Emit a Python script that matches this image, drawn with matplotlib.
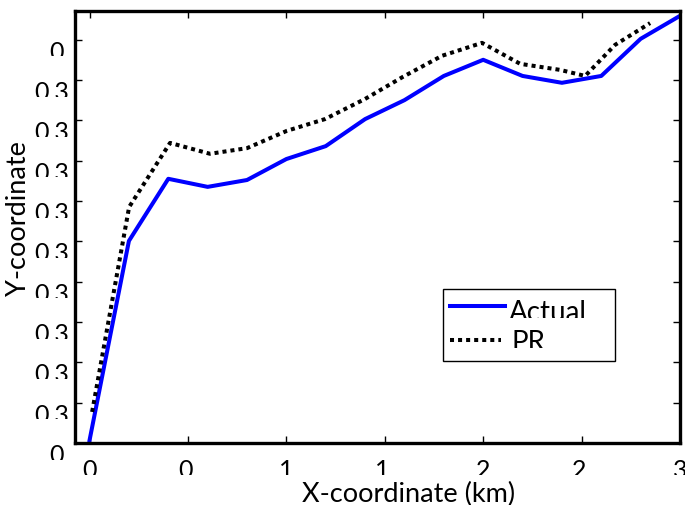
import matplotlib
matplotlib.use("Agg")
from matplotlib import pyplot as plt
from matplotlib.patches import Rectangle
from matplotlib.transforms import Bbox

plt.rcParams['font.family'] = ['Lato', 'DejaVu Sans']

# actual track
x_actual = [0.0, 0.2, 0.4, 0.6, 0.8, 1.0, 1.2, 1.4, 1.6, 1.8, 2.0, 2.2, 2.4, 2.6, 2.8, 3.0]
y_actual = [0.3007, 0.3501, 0.3655, 0.3635, 0.3652, 0.3704, 0.3736, 0.3803,
            0.3850, 0.3910, 0.3950, 0.3910, 0.3893, 0.3910, 0.4002, 0.4059]

# PR estimate
x_pr = [0.013, 0.201, 0.409, 0.612, 0.800, 1.003, 1.196, 1.400, 1.593, 1.791,
        1.994, 2.188, 2.391, 2.518, 2.670, 2.848]
y_pr = [0.3077, 0.3585, 0.3744, 0.3717, 0.3731, 0.3774, 0.3803, 0.3853, 0.3908,
        0.3960, 0.3992, 0.3940, 0.3925, 0.3910, 0.3987, 0.4041]

x_ticks = [0, 0.5, 1, 1.5, 2, 2.5, 3]
x_ticklabels = ['0', '0.', '1', '1.', '2', '2.', '3']
y_ticks = [0.30, 0.31, 0.32, 0.33, 0.34, 0.35, 0.36, 0.37, 0.38, 0.39, 0.40]
y_ticklabels = ['0.', '0.3', '0.3', '0.3', '0.3', '0.3', '0.3', '0.3', '0.3', '0.3', '0.']

W, H = 685, 506
L, R, T, B = 75, 680, 12, 444
fig = plt.figure(figsize=(6.85, 5.06), dpi=100)
ax = fig.add_axes([L / W, (H - B) / H, (R - L) / W, (B - T) / H])


def ax_xy(px, py):
    # pixel position -> axes fraction
    return (px - L) / (R - L), (B - py) / (B - T)


ax.plot(x_actual, y_actual, color='#0000ff', lw=2.9)
ax.plot(x_pr, y_pr, color='black', lw=2.9, linestyle=(0, (1, 1)))

ax.set_xlim(-0.074, 3.0)
ax.set_ylim(0.30, 0.4071)
ax.set_xticks(x_ticks)
ax.set_xticklabels(x_ticklabels)
ax.set_yticks(y_ticks)
ax.set_yticklabels(y_ticklabels)
ax.tick_params(direction='in', length=5, width=1, top=True, right=True,
               labelsize=18)
ax.tick_params(axis='y', pad=4)
ax.tick_params(axis='x', pad=11)
for s in ax.spines.values():
    s.set_linewidth(2.4)

for lab in ax.get_yticklabels():
    lab.set_va('top')

ax.set_xlabel('X-coordinate (km)', fontsize=19.5)
ax.set_ylabel('Y-coordinate', fontsize=19.5)
ax.xaxis.set_label_coords(*ax_xy(409, 494))
ax.yaxis.set_label_coords(*ax_xy(19, 219))
ax.xaxis.label.set_va('center')
ax.yaxis.label.set_va('center')

# legend box drawn by hand to keep the clipped look
x0, y0 = ax_xy(443, 362)
x1, y1 = ax_xy(615, 290)
ax.add_patch(Rectangle((x0, y0), x1 - x0, y1 - y0, transform=ax.transAxes,
                       facecolor='white', edgecolor='black', lw=1.0, zorder=5))
hx0, hy = ax_xy(450, 307)
hx1, _ = ax_xy(505, 307)
ax.plot([hx0, hx1], [hy, hy], transform=ax.transAxes, color='#0000ff', lw=2.9, zorder=6)
hx0, hy = ax_xy(450, 341)
hx1, _ = ax_xy(501, 341)
ax.plot([hx0, hx1], [hy, hy], transform=ax.transAxes, color='black', lw=2.9,
        linestyle=(0, (1, 1)), zorder=6)
t1 = ax.text(*ax_xy(509, 300), 'Actual', transform=ax.transAxes, fontsize=20,
             va='top', ha='left', zorder=7)
t2 = ax.text(*ax_xy(512, 330), 'PR', transform=ax.transAxes, fontsize=20,
             va='top', ha='left', zorder=7)

# clip labels at the bottom like the original export
fig.canvas.draw()
for lab in ax.get_yticklabels() + ax.get_xticklabels() + [t1, t2]:
    bb = lab.get_window_extent()
    lab.set_clip_box(Bbox.from_extents(bb.x0 - 5, bb.y0 + bb.height * 0.27, bb.x1 + 5, bb.y1 + 5))
    lab.set_clip_on(True)

fig.savefig('out.png', dpi=100)
